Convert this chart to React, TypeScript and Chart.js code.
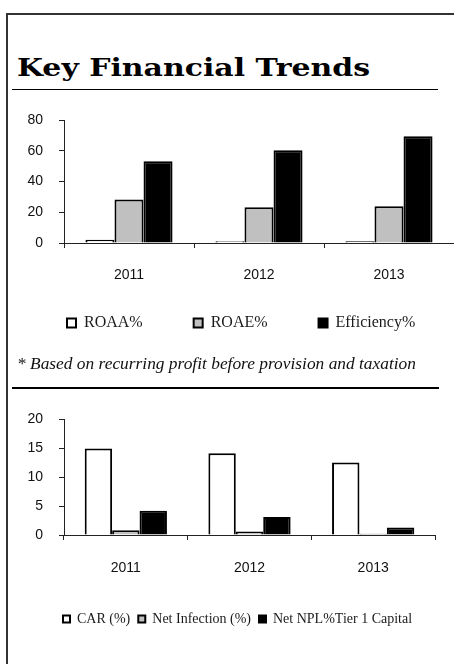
import React, { useEffect, useLayoutEffect, useRef } from 'react';
import { Chart, registerables } from 'chart.js';

Chart.register(...registerables);

// ---- data ----
const years = ['2011', '2012', '2013'];
const roaa = [2.1, 1.2, 1.1];
const roae = [28.3, 23.2, 23.9];
const efficiency = [53.2, 60.3, 69.4];
const perfMax = 80;
const perfStep = 20;

const car = [14.9, 14.1, 12.5];
const netInfection = [0.8, 0.6, 0.2];
const netNpl = [4.2, 3.1, 1.3];
const capMax = 20;
const capStep = 5;

const perfLabels = ['ROAA%', 'ROAE%', 'Efficiency%'];
const capLabels = ['CAR (%)', 'Net Infection (%)', 'Net NPL%Tier 1 Capital'];
const fills = ['#ffffff', '#c0c0c0', '#000000'];

const tickFont = { family: 'Liberation Sans, Arial, sans-serif', size: 14 };

// moves the legend so its first box starts at (x) and items are centred on (y), canvas coords
const legendPlace = {
  id: 'legendPlace',
  afterLayout(chart: any, _args: any, opts: any) {
    const lg = chart.legend;
    if (!lg || !lg.lineWidths) return;
    const lo = lg.options.labels;
    const pad = lo.padding;
    const size = lo.font && lo.font.size ? lo.font.size : 12;
    const itemHeight = Math.max(size, lo.boxHeight || size);
    const start = (lg.left + pad + lg.right - lg.lineWidths[0]) / 2;
    const dx = opts.x - start;
    const dy = opts.y - (lg.top + pad + itemHeight / 2);
    lg.left += dx;
    lg.right += dx;
    lg.top += dy;
    lg.bottom += dy;
  },
};

function makeConfig(
  series: number[][],
  labels: string[],
  max: number,
  step: number,
  pad: { left: number; right: number; top: number; bottom: number },
  yWidth: number,
  xHeight: number,
  catPct: number,
  legendOpts: { box: number; padding: number; size: number; x: number; y: number },
  xPad: number
): any {
  return {
    type: 'bar',
    data: {
      labels: years,
      datasets: series.map((d, i) => ({
        label: labels[i],
        data: d,
        backgroundColor: fills[i],
        borderColor: '#000000',
        borderWidth: 2,
      })),
    },
    plugins: [legendPlace],
    options: {
      animation: false,
      responsive: false,
      maintainAspectRatio: false,
      layout: { padding: pad },
      datasets: { bar: { barPercentage: 1, categoryPercentage: catPct } },
      plugins: {
        tooltip: { enabled: false },
        legendPlace: { x: legendOpts.x, y: legendOpts.y },
        legend: {
          position: 'bottom',
          labels: {
            boxWidth: legendOpts.box,
            boxHeight: legendOpts.box,
            padding: legendOpts.padding,
            color: '#1a1a1a',
            font: { family: 'Liberation Serif, serif', size: legendOpts.size },
          },
        },
      },
      scales: {
        x: {
          grid: { display: true, drawOnChartArea: false, offset: true, tickLength: 5, color: '#222' },
          border: { color: '#222', width: 1 },
          ticks: { padding: xPad, color: '#111', font: tickFont },
          afterFit: (s: any) => {
            s.height = xHeight;
          },
        },
        y: {
          min: 0,
          max,
          ticks: { stepSize: step, padding: 16, color: '#111', font: tickFont },
          grid: { drawOnChartArea: false, tickLength: 5, color: '#222' },
          border: { color: '#222', width: 1 },
          afterFit: (s: any) => {
            s.width = yWidth;
            s.paddingTop = 0;
            s.paddingBottom = 0;
          },
        },
      },
    },
  };
}

function FitText(props: { text: string; width: number; style: React.CSSProperties }) {
  const ref = useRef<HTMLSpanElement>(null);
  useLayoutEffect(() => {
    const el = ref.current;
    if (!el) return;
    el.style.transform = 'none';
    const w = el.getBoundingClientRect().width;
    if (w > 0) el.style.transform = `scaleX(${props.width / w})`;
  }, [props.text, props.width]);
  return (
    <span
      ref={ref}
      style={{ ...props.style, position: 'absolute', whiteSpace: 'nowrap', transformOrigin: '0 0', display: 'inline-block' }}
    >
      {props.text}
    </span>
  );
}

const C1_LEFT = -20;
const C1_TOP = 100;
const C2_LEFT = 0;
const C2_TOP = 399;

export default function App() {
  const c1 = useRef<HTMLCanvasElement>(null);
  const c2 = useRef<HTMLCanvasElement>(null);

  useEffect(() => {
    const ch1 = new Chart(
      c1.current as HTMLCanvasElement,
      makeConfig(
        [roaa, roae, efficiency],
        perfLabels,
        perfMax,
        perfStep,
        { left: 0, right: 0, top: 20, bottom: 0 },
        64 - C1_LEFT,
        44,
        0.67,
        { box: 9, padding: 51, size: 16, x: 67 - C1_LEFT, y: 323 - C1_TOP },
        19
      )
    );
    const ch2 = new Chart(
      c2.current as HTMLCanvasElement,
      makeConfig(
        [car, netInfection, netNpl],
        capLabels,
        capMax,
        capStep,
        { left: 0, right: 19, top: 20, bottom: 30 },
        64 - C2_LEFT,
        44,
        0.665,
        { box: 7, padding: 8, size: 14, x: 63 - C2_LEFT, y: 619 - C2_TOP },
        20
      )
    );
    return () => {
      ch1.destroy();
      ch2.destroy();
    };
  }, []);

  return (
    <div style={{ position: 'absolute', left: 0, top: 0, width: 454, height: 664, overflow: 'hidden', background: '#fff' }}>
      <div style={{ position: 'absolute', left: 6, top: 13, width: 448, height: 2, background: '#333' }} />
      <div style={{ position: 'absolute', left: 6, top: 13, width: 2, height: 651, background: '#333' }} />
      <FitText
        text="Key Financial Trends"
        width={353}
        style={{ left: 17, top: 55, fontFamily: 'DejaVu Serif, serif', fontWeight: 'bold', fontSize: 25, lineHeight: '25px', color: '#000' }}
      />
      <div style={{ position: 'absolute', left: 12, top: 89, width: 426, height: 1, background: '#000' }} />
      <canvas ref={c1} width={474} height={264} style={{ position: 'absolute', left: C1_LEFT, top: C1_TOP, display: 'block' }} />
      <FitText
        text="* Based on recurring profit before provision and taxation"
        width={399}
        style={{ left: 17, top: 355, fontFamily: 'Liberation Serif, serif', fontStyle: 'italic', fontSize: 17, lineHeight: '17px', color: '#111' }}
      />
      <div style={{ position: 'absolute', left: 12, top: 387, width: 427, height: 2, background: '#000' }} />
      <canvas ref={c2} width={454} height={242} style={{ position: 'absolute', left: C2_LEFT, top: C2_TOP, display: 'block' }} />
    </div>
  );
}
